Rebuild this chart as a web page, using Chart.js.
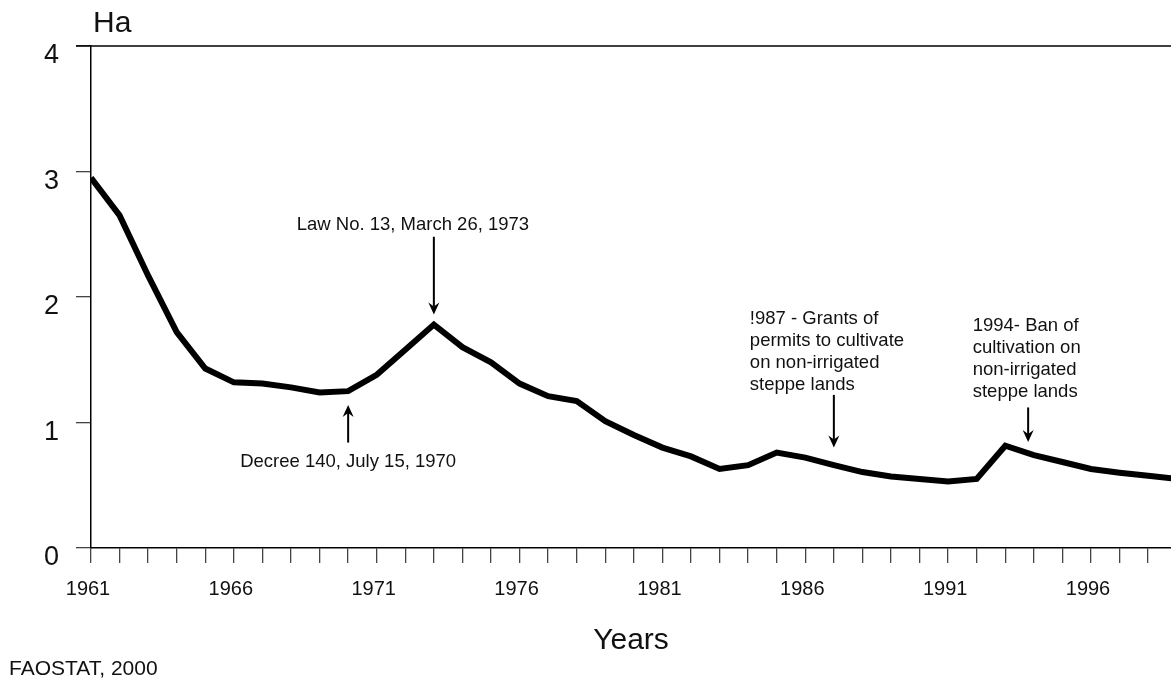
<!DOCTYPE html>
<html>
<head>
<meta charset="utf-8">
<script src="https://cdn.jsdelivr.net/npm/chart.js@4.4.0/dist/chart.umd.min.js"></script>
<style>
  html, body { margin: 0; padding: 0; background: #fff; overflow: hidden; }
</style>
</head>
<body>
<canvas id="chart" width="1171" height="679"></canvas>
<script>
// arable land per person (Ha), FAOSTAT 2000
const years = [
  1961, 1962, 1963, 1964, 1965, 1966, 1967, 1968, 1969, 1970,
  1971, 1972, 1973, 1974, 1975, 1976, 1977, 1978, 1979, 1980,
  1981, 1982, 1983, 1984, 1985, 1986, 1987, 1988, 1989, 1990,
  1991, 1992, 1993, 1994, 1995, 1996, 1997, 1998, 1999
];
const hectares = [
  2.95, 2.65, 2.17, 1.72, 1.43, 1.32, 1.31, 1.28, 1.24, 1.25,
  1.38, 1.58, 1.78, 1.60, 1.48, 1.31, 1.21, 1.17, 1.01, 0.90,
  0.80, 0.73, 0.63, 0.66, 0.76, 0.72, 0.66, 0.605, 0.57, 0.55,
  0.53, 0.55, 0.815, 0.74, 0.685, 0.63, 0.60, 0.575, 0.55
];
const tickYears = years.filter((y) => y <= 1998);
const labelYears = [1961, 1966, 1971, 1976, 1981, 1986, 1991, 1996];

// event notes: arrow year, arrow from/to (Ha), text anchor (year, Ha)
const notes = [
  { year: 1973, from: 2.48, to: 1.86, align: 'left', textYear: 1968.2, textHa: 2.534,
    lines: ['Law No. 13, March 26, 1973'] },
  { year: 1970, from: 0.84, to: 1.14, align: 'center', textYear: 1970, textHa: 0.645,
    lines: ['Decree 140, July 15, 1970'] },
  { year: 1987, from: 1.22, to: 0.80, align: 'left', textYear: 1984.06, textHa: 1.782,
    lines: ['!987 - Grants of', 'permits to cultivate', 'on non-irrigated', 'steppe lands'] },
  { year: 1993.8, from: 1.12, to: 0.845, align: 'left', textYear: 1991.86, textHa: 1.731,
    lines: ['1994- Ban of', 'cultivation on', 'non-irrigated', 'steppe lands'] }
];

const FONT = "'Liberation Sans', Arial, Helvetica, sans-serif";

const drawArrow = (ctx, x, y0, y1) => {
  const dir = y1 > y0 ? 1 : -1;
  ctx.beginPath();
  ctx.moveTo(x, y0);
  ctx.lineTo(x, y1 - dir * 8);
  ctx.stroke();
  ctx.beginPath();
  ctx.moveTo(x, y1);
  ctx.lineTo(x - 5.5, y1 - dir * 12);
  ctx.lineTo(x, y1 - dir * 8);
  ctx.lineTo(x + 5.5, y1 - dir * 12);
  ctx.closePath();
  ctx.fill();
};

const extras = {
  id: 'extras',
  afterDraw(chart) {
    const { ctx, chartArea } = chart;
    const xs = chart.scales.x;
    const ys = chart.scales.y;
    ctx.save();
    // top frame line
    ctx.strokeStyle = '#000';
    ctx.lineWidth = 1.5;
    ctx.beginPath();
    ctx.moveTo(chartArea.left - 15, chartArea.top);
    ctx.lineTo(chartArea.right, chartArea.top);
    ctx.stroke();

    ctx.fillStyle = '#111';
    ctx.textBaseline = 'alphabetic';
    ctx.font = '30px ' + FONT;
    ctx.textAlign = 'left';
    ctx.fillText('Ha', chartArea.left + 2, 32);
    ctx.font = '21px ' + FONT;
    ctx.fillText('FAOSTAT, 2000', 9, 675);

    notes.forEach((n) => {
      const x = xs.getPixelForValue(n.year);
      ctx.lineWidth = 2;
      ctx.strokeStyle = '#000';
      ctx.fillStyle = '#000';
      drawArrow(ctx, x, ys.getPixelForValue(n.from), ys.getPixelForValue(n.to));
      ctx.fillStyle = '#111';
      ctx.font = '18.5px ' + FONT;
      ctx.textAlign = n.align;
      const tx = xs.getPixelForValue(n.textYear);
      const ty = ys.getPixelForValue(n.textHa);
      n.lines.forEach((line, i) => ctx.fillText(line, tx, ty + i * 22));
    });
    ctx.restore();
  }
};

new Chart(document.getElementById('chart'), {
  type: 'line',
  data: {
    datasets: [{
      label: 'Ha',
      data: years.map((y, i) => ({ x: y, y: hectares[i] })),
      borderColor: '#000',
      borderWidth: 6,
      pointRadius: 0,
      tension: 0,
      fill: false
    }]
  },
  options: {
    responsive: false,
    animation: false,
    layout: { padding: { top: 46, right: 0, bottom: 0, left: 0 } },
    plugins: { legend: { display: false }, tooltip: { enabled: false } },
    scales: {
      x: {
        type: 'linear',
        min: 1961,
        max: 1998.8,
        afterBuildTicks: (scale) => { scale.ticks = tickYears.map((v) => ({ value: v })); },
        afterFit: (scale) => { scale.height = 131; },
        grid: { drawOnChartArea: false, drawTicks: true, tickLength: 15, color: '#444', lineWidth: 1.3 },
        border: { display: true, color: '#000', width: 1.5 },
        ticks: {
          autoSkip: false,
          maxRotation: 0,
          minRotation: 0,
          padding: 14,
          labelOffset: -3,
          color: '#111',
          font: { family: FONT, size: 20 },
          callback: (v) => (labelYears.includes(v) ? String(v) : '')
        },
        title: {
          display: true,
          text: 'Years',
          color: '#111',
          font: { family: FONT, size: 30 },
          padding: { top: 0, bottom: 20 }
        }
      },
      y: {
        min: 0,
        max: 4,
        afterFit: (scale) => { scale.width = 91; },
        grid: { drawOnChartArea: false, drawTicks: true, tickLength: 15, color: '#444', lineWidth: 1.3 },
        border: { display: true, color: '#000', width: 1.5 },
        ticks: {
          stepSize: 1,
          padding: 17,
          labelOffset: 10,
          color: '#111',
          font: { family: FONT, size: 27 }
        }
      }
    }
  },
  plugins: [extras]
});
</script>
</body>
</html>
